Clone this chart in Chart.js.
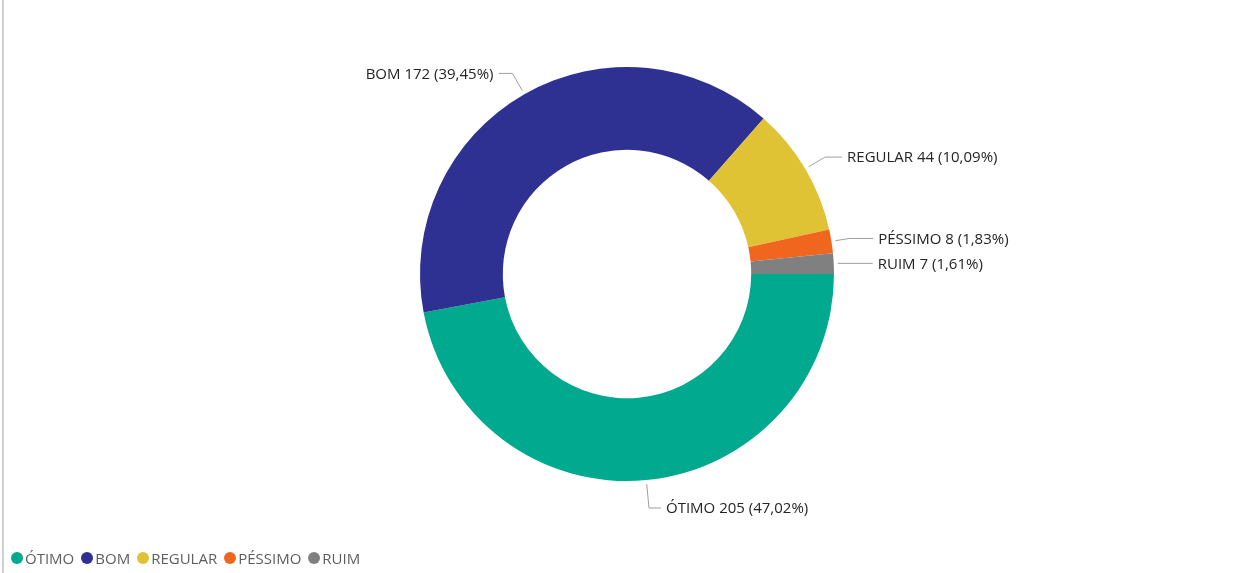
<!DOCTYPE html>
<html>
<head>
<meta charset="utf-8">
<script src="https://cdn.jsdelivr.net/npm/chart.js"></script>
<style>
  html, body { margin: 0; padding: 0; background: #fff; }
  #wrap { position: relative; width: 1246px; height: 573px; overflow: hidden; }
  #edge { position: absolute; left: 2px; top: 0; width: 2px; height: 573px; background: #d2d0ce; }
  #legend { position: absolute; left: 11px; top: 548px; display: flex; align-items: center;
            font-family: "Open Sans", "Noto Sans", sans-serif; font-size: 15px; color: #605e5c; }
  #legend .item { display: flex; align-items: center; margin-right: 7px; }
  #legend .dot { width: 12px; height: 12px; border-radius: 50%; margin-right: 2px; }
</style>
</head>
<body>
<div id="wrap">
  <canvas id="c" width="1246" height="573"></canvas>
  <div id="edge"></div>
  <div id="legend"></div>
</div>
<script>
const categories = ["ÓTIMO", "BOM", "REGULAR", "PÉSSIMO", "RUIM"];
const counts = [205, 172, 44, 8, 7];
const percentLabels = ["47,02%", "39,45%", "10,09%", "1,83%", "1,61%"];
const colors = ["#01a98f", "#2f3192", "#e0c235", "#f0661f", "#808080"];

// leader line layout (radial elbow offset, horizontal run)
const elbowOffset = [28, 24, 23, 18, 4];
const horizRun = [12, 14, 17, 24, 35];

const leaderPlugin = {
  id: 'leaders',
  afterDatasetsDraw(chart) {
    const ctx = chart.ctx;
    const meta = chart.getDatasetMeta(0);
    ctx.save();
    ctx.font = '15px "Open Sans", "Noto Sans", sans-serif';
    ctx.textBaseline = 'middle';
    meta.data.forEach((arc, i) => {
      const p = arc.getProps(['x', 'y', 'startAngle', 'endAngle', 'outerRadius'], true);
      const mid = (p.startAngle + p.endAngle) / 2;
      const c = Math.cos(mid), s = Math.sin(mid);
      const r0 = p.outerRadius + 4;
      const r1 = p.outerRadius + elbowOffset[i];
      const x0 = p.x + c * r0, y0 = p.y + s * r0;
      const x1 = p.x + c * r1, y1 = p.y + s * r1;
      const dir = c >= 0 ? 1 : -1;
      const x2 = x1 + dir * horizRun[i];
      ctx.strokeStyle = '#a19f9d';
      ctx.lineWidth = 1;
      ctx.beginPath();
      ctx.moveTo(x0, y0);
      ctx.lineTo(x1, y1);
      ctx.lineTo(x2, y1);
      ctx.stroke();
      ctx.fillStyle = '#252423';
      ctx.textAlign = dir > 0 ? 'left' : 'right';
      const txt = categories[i] + ' ' + counts[i] + ' (' + percentLabels[i] + ')';
      ctx.fillText(txt, x2 + dir * 5, y1 + 1);
    });
    ctx.restore();
  }
};

new Chart(document.getElementById('c'), {
  type: 'doughnut',
  data: {
    labels: categories,
    datasets: [{
      data: counts,
      backgroundColor: colors,
      borderWidth: 0,
      hoverOffset: 0
    }]
  },
  options: {
    responsive: false,
    animation: false,
    rotation: 90,
    cutout: '60%',
    layout: { padding: { left: 8, right: 0, top: 67, bottom: 92 } },
    plugins: {
      legend: { display: false },
      tooltip: { enabled: false }
    },
    events: []
  },
  plugins: [leaderPlugin]
});

const legend = document.getElementById('legend');
categories.forEach((name, i) => {
  const item = document.createElement('div');
  item.className = 'item';
  const dot = document.createElement('span');
  dot.className = 'dot';
  dot.style.background = colors[i];
  const label = document.createElement('span');
  label.textContent = name;
  item.appendChild(dot);
  item.appendChild(label);
  legend.appendChild(item);
});
</script>
</body>
</html>
